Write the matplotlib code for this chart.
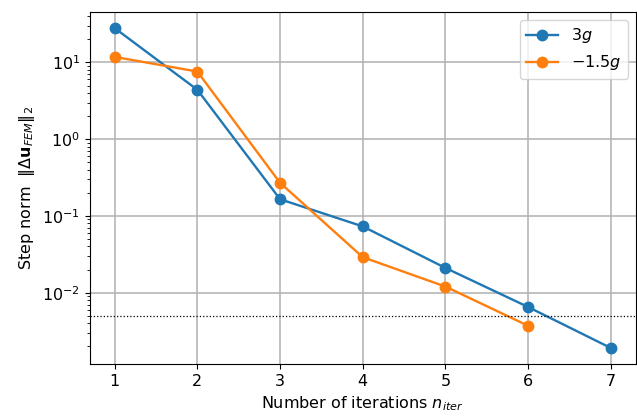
import matplotlib
matplotlib.use("Agg")
import matplotlib.pyplot as plt

iters_a = [1, 2, 3, 4, 5, 6, 7]
norm_a = [28.0, 4.4, 0.165, 0.073, 0.021, 0.0065, 0.0019]
iters_b = [1, 2, 3, 4, 5, 6]
norm_b = [11.8, 7.6, 0.27, 0.029, 0.012, 0.0037]
labels = [r"$3g$", r"$-1.5g$"]
tol = 0.005

plt.rcParams["font.size"] = 11.5

fig, ax = plt.subplots(figsize=(6.37, 4.17), dpi=100)
ax.plot(iters_a, norm_a, marker="o", color="#1f77b4", label=labels[0], markersize=7.5, linewidth=1.7)
ax.plot(iters_b, norm_b, marker="o", color="#ff7f0e", label=labels[1], markersize=7.5, linewidth=1.7)
ax.axhline(tol, color="black", linestyle=":", linewidth=0.9)
ax.set_yscale("log")
ax.grid(True, which="major", linewidth=1.1)
ax.set_xlabel(r"Number of iterations $n_{iter}$")
ax.set_ylabel(r"Step norm  $\|\Delta \mathbf{u}_{FEM}\|_2$")
ax.legend(loc="upper right")
fig.subplots_adjust(left=0.141, right=0.998, top=0.971, bottom=0.127)
fig.savefig("out.png", dpi=100)
